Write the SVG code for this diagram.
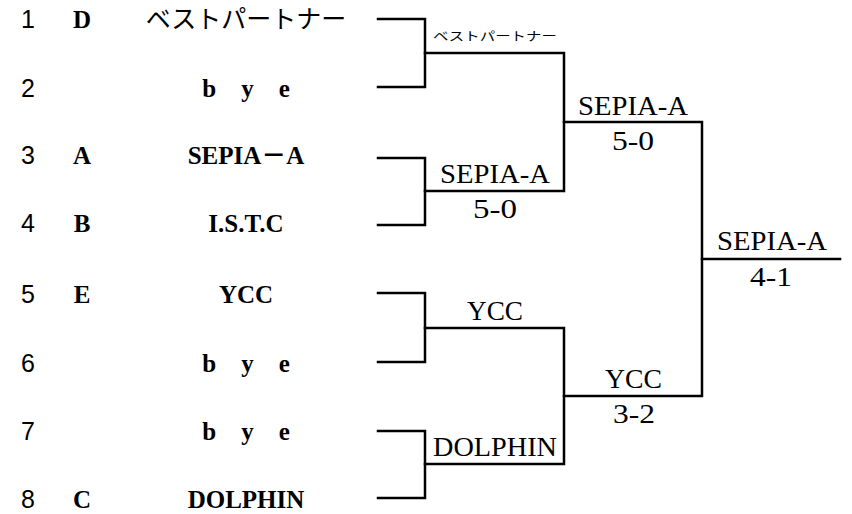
<svg xmlns="http://www.w3.org/2000/svg" width="852" height="514" viewBox="0 0 852 514">
<style>
.num{font-family:"Liberation Sans",Arial,sans-serif;font-size:25px;fill:#000}
.seed{font-family:"Liberation Serif","Noto Sans CJK JP",serif;font-size:25px;font-weight:bold;fill:#000;text-anchor:middle}
.team{font-family:"Liberation Serif","Noto Sans CJK JP",serif;font-size:25px;font-weight:bold;fill:#000;text-anchor:middle}
.jp{font-family:"Noto Sans CJK JP",sans-serif;font-size:25px;font-weight:normal;fill:#000;text-anchor:middle}
.res{font-family:"Liberation Serif","Noto Sans CJK JP",serif;font-size:28px;fill:#000}
.small{font-family:"Noto Sans CJK JP",sans-serif;font-size:12px;fill:#000}
.ln{fill:none;stroke:#000;stroke-width:2.5;stroke-linecap:square}
</style>
<rect width="852" height="514" fill="#fff"/>
<g id="team1"><text class="num" x="21" y="28">1</text><text class="seed" x="82" y="28">D</text><text class="jp" x="246" y="28">ベストパートナー</text></g>
<g id="team2"><text class="num" x="21" y="97">2</text><text class="team" x="246" y="97">b　y　e</text></g>
<g id="team3"><text class="num" x="21" y="164">3</text><text class="seed" x="82" y="164">A</text><text class="team" x="246" y="164">SEPIA－A</text></g>
<g id="team4"><text class="num" x="21" y="232">4</text><text class="seed" x="82" y="232">B</text><text class="team" x="246" y="232">I.S.T.C</text></g>
<g id="team5"><text class="num" x="21" y="303">5</text><text class="seed" x="82" y="303">E</text><text class="team" x="246" y="303">YCC</text></g>
<g id="team6"><text class="num" x="21" y="372">6</text><text class="team" x="246" y="372">b　y　e</text></g>
<g id="team7"><text class="num" x="21" y="440">7</text><text class="team" x="246" y="440">b　y　e</text></g>
<g id="team8"><text class="num" x="21" y="508">8</text><text class="seed" x="82" y="508">C</text><text class="team" x="246" y="508">DOLPHIN</text></g>
<g id="connectors">
<polyline class="ln" points="378,19 425,19 425,87 378,87"/>
<polyline class="ln" points="378,158 425,158 425,225 378,225"/>
<polyline class="ln" points="378,293 425,293 425,362 378,362"/>
<polyline class="ln" points="378,431 425,431 425,498 378,498"/>
<polyline class="ln" points="425,53 564,53 564,191 425,191"/>
<polyline class="ln" points="425,328 564,328 564,464 425,464"/>
<polyline class="ln" points="564,122 702,122 702,396 564,396"/>
<line class="ln" x1="702" y1="259" x2="840" y2="259"/>
</g>
<g id="r1m1"><text class="small" x="433" y="41" textLength="124" lengthAdjust="spacingAndGlyphs">ベストパートナー</text></g>
<g id="r1m2"><text class="res" x="440" y="183" textLength="110" lengthAdjust="spacingAndGlyphs">SEPIA-A</text><text class="res" x="473" y="218" textLength="44" lengthAdjust="spacingAndGlyphs">5-0</text></g>
<g id="r1m3"><text class="res" x="467" y="320" textLength="56" lengthAdjust="spacingAndGlyphs">YCC</text></g>
<g id="r1m4"><text class="res" x="433" y="456" textLength="124" lengthAdjust="spacingAndGlyphs">DOLPHIN</text></g>
<g id="r2m1"><text class="res" x="578" y="115" textLength="110" lengthAdjust="spacingAndGlyphs">SEPIA-A</text><text class="res" x="612" y="150" textLength="42" lengthAdjust="spacingAndGlyphs">5-0</text></g>
<g id="r2m2"><text class="res" x="605" y="388" textLength="57" lengthAdjust="spacingAndGlyphs">YCC</text><text class="res" x="613" y="423" textLength="42" lengthAdjust="spacingAndGlyphs">3-2</text></g>
<g id="final"><text class="res" x="717" y="250" textLength="110" lengthAdjust="spacingAndGlyphs">SEPIA-A</text><text class="res" x="750" y="286" textLength="42" lengthAdjust="spacingAndGlyphs">4-1</text></g>
</svg>
